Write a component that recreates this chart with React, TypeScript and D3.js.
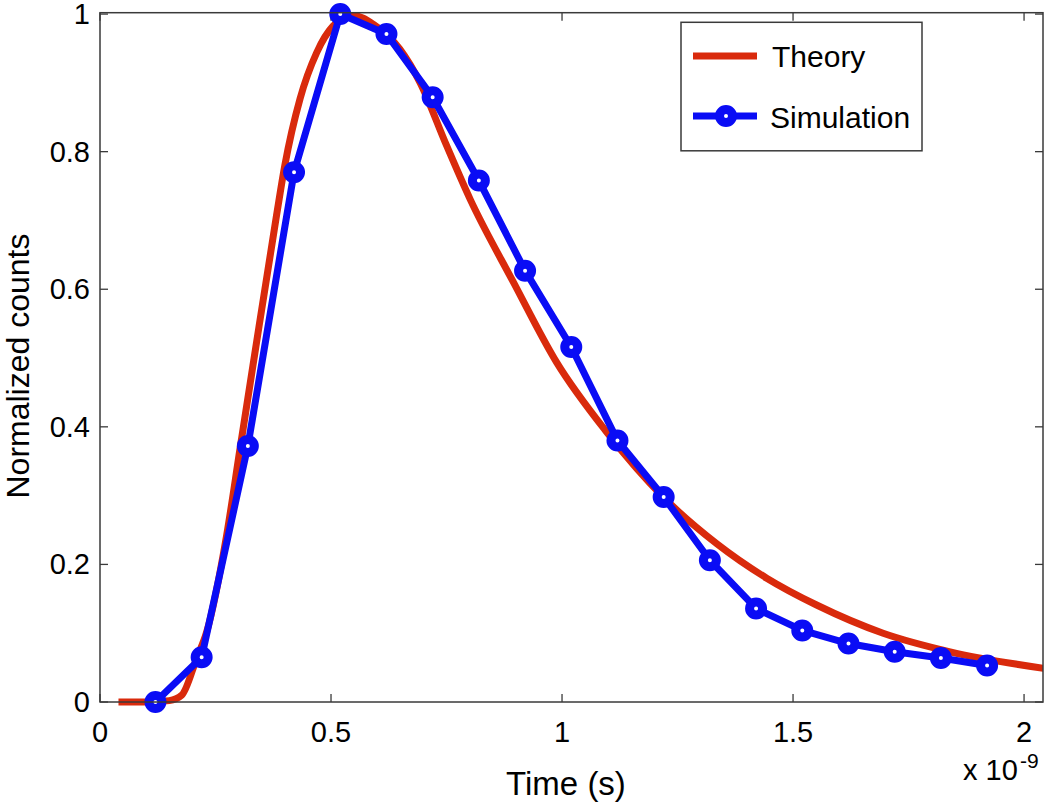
import React from "react";
import * as d3 from "d3";

const theoryTime = [0.04, 0.1, 0.15, 0.177, 0.209, 0.231, 0.274, 0.303, 0.331, 0.382, 0.4, 0.433, 0.469, 0.505, 0.548, 0.592, 0.649, 0.693, 0.75, 0.801, 0.895, 0.988, 1.097, 1.219, 1.335, 1.443, 1.551, 1.695, 1.84, 2.042];
const theoryCounts = [0, 0, 0.002, 0.01, 0.063, 0.102, 0.242, 0.368, 0.489, 0.707, 0.78, 0.877, 0.944, 0.983, 0.998, 0.985, 0.949, 0.9, 0.809, 0.731, 0.61, 0.494, 0.392, 0.298, 0.23, 0.18, 0.141, 0.1, 0.073, 0.049];

const simTime = [0.12, 0.22, 0.32, 0.42, 0.52, 0.62, 0.72, 0.82, 0.92, 1.02, 1.12, 1.22, 1.32, 1.42, 1.52, 1.62, 1.72, 1.82, 1.92];
const simCounts = [0.0, 0.065, 0.372, 0.77, 1.0, 0.971, 0.879, 0.758, 0.627, 0.516, 0.38, 0.298, 0.206, 0.136, 0.104, 0.085, 0.073, 0.064, 0.053];

const xTicks = [0, 0.5, 1, 1.5, 2];
const yTicks = [0, 0.2, 0.4, 0.6, 0.8, 1];
const xTickLabels = ["0", "0.5", "1", "1.5", "2"];
const yTickLabels = ["0", "0.2", "0.4", "0.6", "0.8", "1"];

const legendLabels = ["Theory", "Simulation"];

const RED = "#d92a0c";
const BLUE = "#0a0cf5";
const AXIS = "#3a3a3a";
const FONT = "'Liberation Sans', Arial, Helvetica, sans-serif";

export default function App() {
  const left = 100, right = 1043, top = 12.7, bottom = 702;
  const x = d3.scaleLinear().domain([0, 2.041]).range([left, right]);
  const y = d3.scaleLinear().domain([0, 1.002]).range([bottom, top]);

  const theory = theoryTime.map((t, i) => [t, theoryCounts[i]] as [number, number]);
  const sim = simTime.map((t, i) => [t, simCounts[i]] as [number, number]);

  const theoryPath = d3.line<[number, number]>().x(d => x(d[0])).y(d => y(d[1])).curve(d3.curveMonotoneX)(theory) || "";
  const simPath = d3.line<[number, number]>().x(d => x(d[0])).y(d => y(d[1]))(sim) || "";

  const tickLen = 8;

  return (
    <svg width={1050} height={808} style={{ position: "absolute", left: 0, top: 0, background: "#fff" }} fontFamily={FONT}>
      <defs>
        <clipPath id="plotClip">
          <rect x={left} y={top - 12} width={right - left} height={bottom - top + 24} />
        </clipPath>
      </defs>
      <rect x={0} y={0} width={1050} height={808} fill="#fff" />

      {xTicks.map((t, i) => (
        <g key={"xt" + i}>
          <line x1={x(t)} x2={x(t)} y1={bottom} y2={bottom - tickLen} stroke={AXIS} strokeWidth={1.3} />
          <line x1={x(t)} x2={x(t)} y1={top} y2={top + tickLen} stroke={AXIS} strokeWidth={1.3} />
          <text x={x(t)} y={742} fontSize={29} textAnchor="middle" fill="#000">{xTickLabels[i]}</text>
        </g>
      ))}
      {yTicks.map((t, i) => (
        <g key={"yt" + i}>
          <line x1={left} x2={left + tickLen} y1={y(t)} y2={y(t)} stroke={AXIS} strokeWidth={1.3} />
          <line x1={right} x2={right - tickLen} y1={y(t)} y2={y(t)} stroke={AXIS} strokeWidth={1.3} />
          <text x={90} y={y(t) + 10} fontSize={29} textAnchor="end" fill="#000">{yTickLabels[i]}</text>
        </g>
      ))}

      <g clipPath="url(#plotClip)">
        <path d={theoryPath} fill="none" stroke={RED} strokeWidth={7} strokeLinejoin="round" />
        <path d={simPath} fill="none" stroke={BLUE} strokeWidth={7} strokeLinejoin="round" />
        {sim.map((d, i) => (
          <circle key={"m" + i} cx={x(d[0])} cy={y(d[1])} r={6.5} fill="#fff" stroke={BLUE} strokeWidth={9} />
        ))}
      </g>

      <rect x={left} y={top} width={right - left} height={bottom - top} fill="none" stroke={AXIS} strokeWidth={1.5} />

      <rect x={681} y={22.3} width={241} height={128.5} fill="#fff" stroke={AXIS} strokeWidth={1.5} />
      <line x1={693} x2={757} y1={56} y2={56} stroke={RED} strokeWidth={7} />
      <text x={772} y={67} fontSize={30} fill="#000">{legendLabels[0]}</text>
      <line x1={693} x2={757} y1={116} y2={116} stroke={BLUE} strokeWidth={7} />
      <circle cx={726} cy={116} r={6.5} fill="#fff" stroke={BLUE} strokeWidth={9} />
      <text x={770} y={128} fontSize={30} fill="#000">{legendLabels[1]}</text>

      <text x={566} y={795} fontSize={33} textAnchor="middle" fill="#000">Time (s)</text>
      <text transform={`translate(29, 366) rotate(-90)`} fontSize={32} textAnchor="middle" fill="#000">Normalized counts</text>
      <text x={963} y={780} fontSize={29} fill="#000">x 10</text>
      <text x={1020} y={768} fontSize={21} fill="#000">-9</text>
    </svg>
  );
}
